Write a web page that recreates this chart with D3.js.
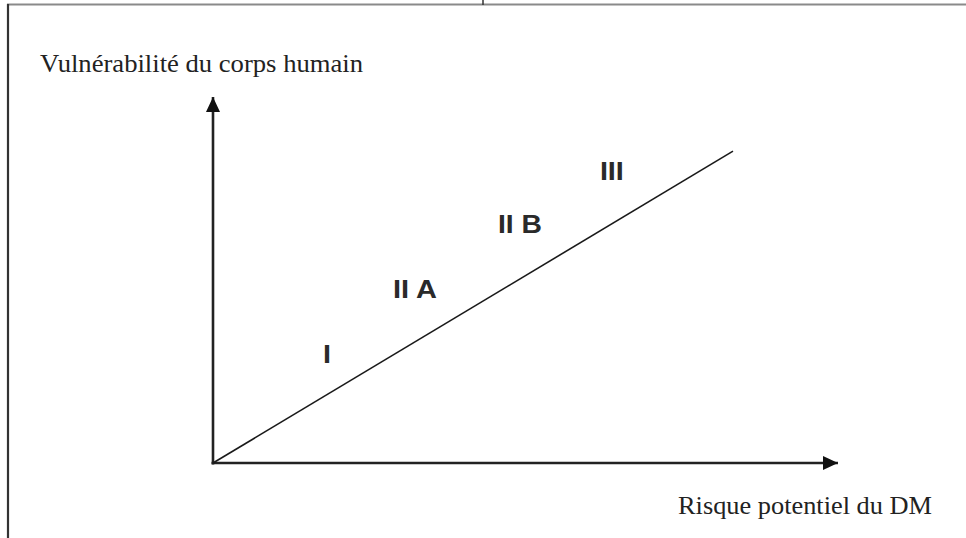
<!DOCTYPE html>
<html>
<head>
<meta charset="utf-8">
<script src="https://cdn.jsdelivr.net/npm/d3@7"></script>
<style>
    body { margin: 0; background: #fff; }
    svg { display: block; }
</style>
</head>
<body>
<script>
    'use strict';

    // axis titles
    var xTitle = 'Risque potentiel du DM';
    var yTitle = 'Vulnérabilité du corps humain';

    // diagonal (risk vs vulnerability), in 0..100 units
    var lineX = [0, 83.2];
    var lineY = [0, 85.2];

    // class zones, label anchor in 0..100 units
    var classNames = ['I', 'II A', 'II B', 'III'];
    var classX = [17.6, 28.8, 45.6, 61.9];
    var classY = [27.3, 45.1, 62.8, 77.3];
    var classWidths = [8, 44, 44, 24];

    var W = 966, H = 538;
    var svg = d3.select('body').append('svg')
        .attr('width', W)
        .attr('height', H);

    // page frame (cropped scan)
    svg.append('line')
        .attr('x1', 7).attr('y1', 4.5).attr('x2', W).attr('y2', 4.5)
        .style('stroke', '#8a8a8a').style('stroke-width', 2);
    svg.append('line')
        .attr('x1', 8).attr('y1', 4).attr('x2', 8).attr('y2', H)
        .style('stroke', '#333').style('stroke-width', 2.2);
    svg.append('line')
        .attr('x1', 483).attr('y1', 0).attr('x2', 483).attr('y2', 5)
        .style('stroke', '#333').style('stroke-width', 1.5);

    var x = d3.scaleLinear().domain([0, 100]).range([213, 838]);
    var y = d3.scaleLinear().domain([0, 100]).range([463, 97]);

    var defs = svg.append('defs');
    defs.append('marker')
        .attr('id', 'arrow')
        .attr('viewBox', '0 0 15 14')
        .attr('refX', 15).attr('refY', 7)
        .attr('markerWidth', 15).attr('markerHeight', 14)
        .attr('markerUnits', 'userSpaceOnUse')
        .attr('orient', 'auto')
        .append('path')
        .attr('d', 'M0,0 L15,7 L0,14 Z')
        .style('fill', '#111');

    var axes = svg.append('g').attr('class', 'axes');
    axes.append('line')
        .attr('x1', x(0)).attr('y1', y(0) + 1.5)
        .attr('x2', x(0)).attr('y2', y(100))
        .attr('marker-end', 'url(#arrow)')
        .style('stroke', '#222').style('stroke-width', 2.6);
    axes.append('line')
        .attr('x1', x(0) - 1.5).attr('y1', y(0))
        .attr('x2', x(100)).attr('y2', y(0))
        .attr('marker-end', 'url(#arrow)')
        .style('stroke', '#222').style('stroke-width', 2.6);

    var pts = lineX.map(function (d, i) { return [d, lineY[i]]; });
    svg.append('path')
        .datum(pts)
        .attr('d', d3.line()
            .x(function (d) { return x(d[0]); })
            .y(function (d) { return y(d[1]); }))
        .style('fill', 'none')
        .style('stroke', '#1a1a1a')
        .style('stroke-width', 1.6);

    svg.selectAll('.zone')
        .data(classNames)
        .enter().append('text')
        .attr('class', 'zone')
        .attr('x', function (d, i) { return x(classX[i]); })
        .attr('y', function (d, i) { return y(classY[i]); })
        .attr('textLength', function (d, i) { return classWidths[i]; })
        .attr('lengthAdjust', 'spacingAndGlyphs')
        .style('font-family', '"Liberation Sans", Arial, sans-serif')
        .style('font-weight', 'bold')
        .style('font-size', '25px')
        .style('fill', '#2a2a2a')
        .text(function (d) { return d; });

    svg.append('text')
        .attr('x', 40).attr('y', 72)
        .attr('textLength', 323)
        .attr('lengthAdjust', 'spacingAndGlyphs')
        .style('font-family', '"Liberation Serif", "Times New Roman", serif')
        .style('font-size', '26px')
        .style('fill', '#222')
        .text(yTitle);

    svg.append('text')
        .attr('x', 678).attr('y', 514)
        .attr('textLength', 254)
        .attr('lengthAdjust', 'spacingAndGlyphs')
        .style('font-family', '"Liberation Serif", "Times New Roman", serif')
        .style('font-size', '26px')
        .style('fill', '#222')
        .text(xTitle);
</script>
</body>
</html>
